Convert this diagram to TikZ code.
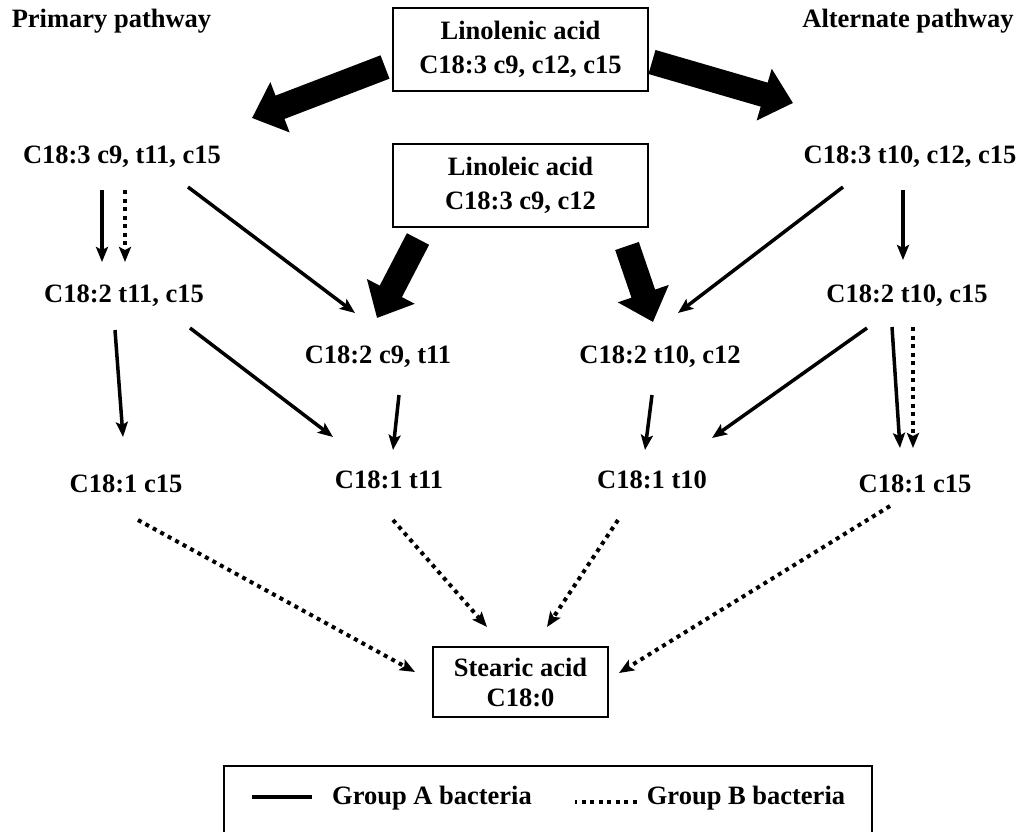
\documentclass[tikz,border=0pt]{standalone}
\usepackage{fontspec}
\setmainfont{Liberation Serif}
\usetikzlibrary{arrows.meta}

\begin{document}
\begin{tikzpicture}[
    x=1pt, y=1pt,
    every node/.style={font=\bfseries\fontsize{26.5}{34}\selectfont, inner sep=0pt},
    lbl/.style={anchor=base},
    box/.style={rectangle, draw, line width=2pt, minimum width=255pt, minimum height=83pt, align=center},
    bigarrow/.style={-{Triangle[width=52pt,length=30pt]}, line width=25pt},
    arrow/.style={-{Stealth[width=12pt,length=15pt,inset=3pt]}, line width=3.5pt},
    dotarrow/.style={arrow, line width=4pt, dash pattern=on 4pt off 4.5pt}
]
    \useasboundingbox (0,0) rectangle (1021,-831);
    \clip (0,0) rectangle (1021,-831);

    % Titulos
    \node[lbl] (prim) at (111.5,-27) {Primary pathway};
    \node[lbl] (alt) at (908,-27) {Alternate pathway};

    % Cajas
    \node[box] (lnn) at (520.5,-49) {Linolenic acid\\C18:3 c9, c12, c15};
    \node[box] (lnl) at (520.5,-185.5) {Linoleic acid\\C18:3 c9, c12};
    \node[box, minimum width=175pt, minimum height=70pt,
          font=\bfseries\fontsize{26.5}{30}\selectfont] (stc) at (520.5,-682) {Stearic acid\\C18:0};

    % Intermedios
    \node[lbl] (a3) at (122,-163) {C18:3 c9, t11, c15};
    \node[lbl] (b3) at (910,-163) {C18:3 t10, c12, c15};
    \node[lbl] (a2) at (124,-302) {C18:2 t11, c15};
    \node[lbl] (b2) at (907,-302) {C18:2 t10, c15};
    \node[lbl] (m2a) at (378,-363) {C18:2 c9, t11};
    \node[lbl] (m2b) at (660,-363) {C18:2 t10, c12};
    \node[lbl] (a1) at (126,-492) {C18:1 c15};
    \node[lbl] (m1a) at (389,-488) {C18:1 t11};
    \node[lbl] (m1b) at (652,-488) {C18:1 t10};
    \node[lbl] (b1) at (915,-492) {C18:1 c15};

    % Flechas gruesas
    \draw[bigarrow] ([shift={(-135.5,-18)}]lnn.center) -- ([shift={(130,45)}]a3.base);
    \draw[bigarrow] ([shift={(131.5,-13)}]lnn.center) -- ([shift={(-117,60)}]b3.base);
    \draw[bigarrow] ([shift={(-102.5,-53.5)}]lnl.center) -- ([shift={(-1,45)}]m2a.base);
    \draw[bigarrow] ([shift={(106.5,-60.5)}]lnl.center) -- ([shift={(-7,41)}]m2b.base);

    % Flechas (grupo A)
    \draw[arrow] ([shift={(-20,-27)}]a3.base) -- ([shift={(-22,40)}]a2.base);
    \draw[arrow] ([shift={(66,-24)}]a3.base) -- ([shift={(-23,50)}]m2a.base);
    \draw[arrow] ([shift={(-9,-28)}]a2.base) -- ([shift={(-3,55)}]a1.base);
    \draw[arrow] ([shift={(66,-26)}]a2.base) -- ([shift={(-56,51)}]m1a.base);
    \draw[arrow] ([shift={(21,-32)}]m2a.base) -- ([shift={(4,38)}]m1a.base);
    \draw[arrow] ([shift={(-8,-32)}]m2b.base) -- ([shift={(-7,38)}]m1b.base);
    \draw[arrow] ([shift={(-67,-24)}]b3.base) -- ([shift={(18,50)}]m2b.base);
    \draw[arrow] ([shift={(-7,-27)}]b3.base) -- ([shift={(-4,42)}]b2.base);
    \draw[arrow] ([shift={(-40,-26)}]b2.base) -- ([shift={(60,50)}]m1b.base);
    \draw[arrow] ([shift={(-15,-25)}]b2.base) -- ([shift={(-15,44)}]b1.base);

    % Flechas (grupo B)
    \draw[dotarrow] ([shift={(3,-27)}]a3.base) -- ([shift={(1,40)}]a2.base);
    \draw[dotarrow] ([shift={(6,-25)}]b2.base) -- ([shift={(-2,44)}]b1.base);
    \draw[dotarrow] ([shift={(12,-28)}]a1.base) -- ([shift={(-105.5,10)}]stc.center);
    \draw[dotarrow] ([shift={(4,-32)}]m1a.base) -- ([shift={(-33.5,55)}]stc.center);
    \draw[dotarrow] ([shift={(-34,-32)}]m1b.base) -- ([shift={(26.5,55)}]stc.center);
    \draw[dotarrow] ([shift={(-25,-14)}]b1.base) -- ([shift={(98.5,9)}]stc.center);

    % Leyenda
    \node[draw, line width=2pt, minimum width=648pt, minimum height=134pt] (leg) at (548,-833) {};
    \node[lbl] (ga) at (432,-804) {Group A bacteria};
    \node[lbl] (gb) at (746,-804) {Group B bacteria};
    \draw[line width=4pt] ([shift={(-20,7)}]ga.base west) -- ++(-60,0);
    \draw[line width=4pt, dash pattern=on 4pt off 4.5pt] ([shift={(-10,2)}]gb.base west) -- ++(-62,0);
\end{tikzpicture}
\end{document}
